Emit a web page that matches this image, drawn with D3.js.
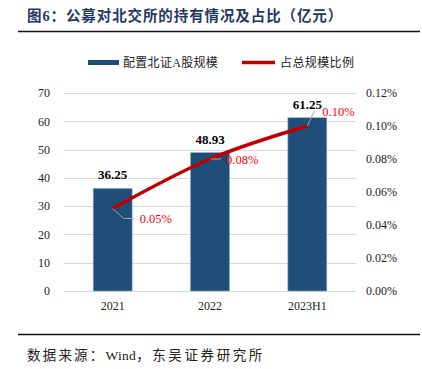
<!DOCTYPE html>
<html><head><meta charset="utf-8">
<script src="https://cdn.jsdelivr.net/npm/d3@7"></script>
<style>
body{margin:0;background:#fff;}
svg{display:block;}
</style></head>
<body>
<script>
const categories = ["2021", "2022", "2023H1"];
const holdings = [36.25, 48.93, 61.25];
const ratios = [0.05, 0.08, 0.10];
const leftTicks = [0, 10, 20, 30, 40, 50, 60, 70];
const rightTicks = [0, 0.02, 0.04, 0.06, 0.08, 0.10, 0.12];
const seriesNames = ["配置北证A股规模", "占总规模比例"];
const titleText = "图6：公募对北交所的持有情况及占比（亿元）";
const sourceParts = ["数据来源：", "Wind", "，东吴证券研究所"];

const W = 422, H = 369;
const serif = "'Liberation Serif','Times New Roman','Noto Sans CJK SC',serif";
const cjk = "'Liberation Serif','Noto Sans CJK SC',serif";
const svg = d3.select("body").append("svg").attr("width", W).attr("height", H);

const plot = {l: 64, r: 356, t: 93, b: 291};
const x = d3.scaleBand().domain(categories).range([plot.l, plot.r]).paddingInner(0).paddingOuter(0);
const yL = d3.scaleLinear().domain([0, 70]).range([plot.b, plot.t]);
const yR = d3.scaleLinear().domain([0, 0.12]).range([plot.b, plot.t]);

// title
svg.append("text").attr("x", 27).attr("y", 21)
  .attr("font-family", cjk).attr("font-weight", "bold").attr("font-size", 14.5)
  .attr("fill", "#1f3864").attr("letter-spacing", 0.9).text(titleText);
svg.append("line").attr("x1", 18).attr("x2", 420).attr("y1", 31.5).attr("y2", 31.5)
  .attr("stroke", "#111").attr("stroke-width", 1.5);
svg.append("line").attr("x1", 18).attr("x2", 420).attr("y1", 334.5).attr("y2", 334.5)
  .attr("stroke", "#111").attr("stroke-width", 1.5);
const src = svg.append("text").attr("x", 27).attr("y", 360)
  .attr("font-family", cjk).attr("font-size", 13.5).attr("fill", "#222");
src.append("tspan").attr("letter-spacing", 2.2).text(sourceParts[0]);
src.append("tspan").attr("letter-spacing", 0.3).text(sourceParts[1]);
src.append("tspan").attr("letter-spacing", 2.6).text(sourceParts[2]);

// gridlines
svg.append("g").selectAll("line").data(leftTicks).join("line")
  .attr("x1", plot.l).attr("x2", plot.r)
  .attr("y1", d => Math.round(yL(d)) + 0.5).attr("y2", d => Math.round(yL(d)) + 0.5)
  .attr("stroke", "#d9d9d9").attr("stroke-width", 1);

// left axis
const axL = svg.append("g").attr("transform", `translate(${plot.l},0)`)
  .call(d3.axisLeft(yL).tickValues(leftTicks).tickSize(0).tickPadding(14).tickFormat(d3.format("d")));
axL.select(".domain").remove();
axL.selectAll("text").attr("font-family", serif).attr("font-size", 12).attr("fill", "#222");

// right axis
const axR = svg.append("g").attr("transform", `translate(${plot.r},0)`)
  .call(d3.axisRight(yR).tickValues(rightTicks).tickSize(0).tickPadding(10).tickFormat(d => d.toFixed(2) + "%"));
axR.select(".domain").remove();
axR.selectAll("text").attr("font-family", serif).attr("font-size", 12).attr("fill", "#222");

// bottom axis
const axB = svg.append("g").attr("transform", `translate(0,${plot.b})`)
  .call(d3.axisBottom(x).tickSize(0).tickPadding(10));
axB.select(".domain").remove();
axB.selectAll("text").attr("font-family", serif).attr("font-size", 12).attr("fill", "#222");

// bars
const bw = x.bandwidth() * 0.4;
const cx = c => x(c) + x.bandwidth() / 2;
svg.append("g").selectAll("rect").data(holdings).join("rect")
  .attr("x", (d, i) => cx(categories[i]) - bw / 2)
  .attr("y", d => yL(d))
  .attr("width", bw).attr("height", d => plot.b - yL(d))
  .attr("fill", "#1f4e79").attr("stroke", "#8ea9c8").attr("stroke-width", 0.6);

// bar value labels
svg.append("g").selectAll("text").data(holdings).join("text")
  .attr("x", (d, i) => cx(categories[i])).attr("y", d => yL(d) - 9)
  .attr("text-anchor", "middle").attr("font-family", serif).attr("font-weight", "bold")
  .attr("font-size", 13).attr("fill", "#000").text(d => d.toFixed(2));

// line
const pts = ratios.map((d, i) => [cx(categories[i]), yR(d)]);
const line = d3.line().curve(d3.curveMonotoneX);
svg.append("path").attr("d", line(pts)).attr("fill", "none")
  .attr("stroke", "#c00000").attr("stroke-width", 3.5).attr("stroke-linecap", "butt");

// leader lines and labels
const leaders = [
  [[0, 0], [11, 10], [21, 10]],
  [[1, 0], [11, 0]],
  [[0, 0], [6, -13], [8, -15]]
];
const labelOff = [[27, 10], [16, 1], [15, -14]];
ratios.forEach((d, i) => {
  const p = pts[i];
  svg.append("path").attr("d", d3.line()(leaders[i].map(o => [p[0] + o[0], p[1] + o[1]])))
    .attr("fill", "none").attr("stroke", "#a6a6a6").attr("stroke-width", 1);
  svg.append("text").attr("x", p[0] + labelOff[i][0]).attr("y", p[1] + labelOff[i][1])
    .attr("dominant-baseline", "central").attr("font-family", serif).attr("font-size", 12.5)
    .attr("fill", "#ff0000").text(d.toFixed(2) + "%");
});

// legend
const lg = svg.append("g");
lg.append("rect").attr("x", 88).attr("y", 60).attr("width", 31).attr("height", 5).attr("fill", "#1f4e79");
lg.append("text").attr("x", 123).attr("y", 63).attr("dominant-baseline", "central")
  .attr("font-family", cjk).attr("font-size", 12).attr("fill", "#222").attr("letter-spacing", 0.3).text(seriesNames[0]);
lg.append("line").attr("x1", 242).attr("x2", 275).attr("y1", 62.5).attr("y2", 62.5)
  .attr("stroke", "#c00000").attr("stroke-width", 3.5);
lg.append("text").attr("x", 280).attr("y", 63).attr("dominant-baseline", "central")
  .attr("font-family", cjk).attr("font-size", 12).attr("fill", "#222").attr("letter-spacing", 0.4).text(seriesNames[1]);
</script>
</body></html>
